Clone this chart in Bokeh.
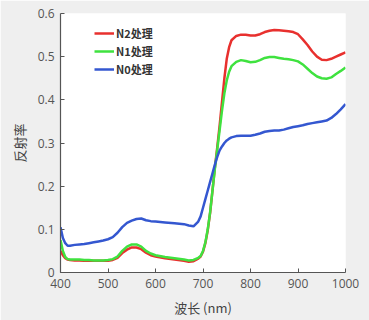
from bokeh.plotting import figure
from bokeh.models import Legend, LegendItem, CustomJSTickFormatter, FixedTicker, Range1d
from bokeh.embed import file_html
from bokeh.resources import INLINE

wavelength = [400,405,410,415,420,430,440,450,460,470,480,490,500,510,520,530,540,550,560,570,580,590,600,620,640,660,670,680,690,695,700,705,710,715,720,725,730,735,740,745,750,755,760,770,780,790,800,810,820,830,840,850,860,870,880,890,900,910,920,930,940,950,960,970,980,990,1000]

n0 = [0.105,0.08,0.068,0.062,0.062,0.064,0.065,0.066,0.068,0.07,0.072,0.074,0.077,0.082,0.092,0.105,0.115,0.12,0.124,0.125,0.121,0.119,0.118,0.116,0.114,0.112,0.109,0.107,0.118,0.13,0.15,0.17,0.19,0.21,0.23,0.25,0.268,0.283,0.292,0.3,0.306,0.31,0.313,0.316,0.317,0.317,0.317,0.319,0.322,0.326,0.328,0.329,0.329,0.331,0.334,0.337,0.339,0.341,0.344,0.346,0.348,0.35,0.352,0.358,0.367,0.378,0.39]

n1 = [0.075,0.05,0.036,0.031,0.03,0.03,0.03,0.029,0.029,0.028,0.028,0.028,0.029,0.031,0.037,0.05,0.06,0.065,0.065,0.06,0.05,0.044,0.04,0.036,0.033,0.03,0.028,0.029,0.034,0.038,0.05,0.07,0.1,0.14,0.19,0.24,0.285,0.33,0.375,0.415,0.445,0.465,0.478,0.488,0.492,0.49,0.487,0.488,0.492,0.497,0.499,0.499,0.497,0.495,0.494,0.492,0.489,0.482,0.472,0.462,0.454,0.45,0.449,0.452,0.46,0.467,0.475]

n2 = [0.05,0.04,0.033,0.03,0.029,0.028,0.028,0.027,0.027,0.027,0.027,0.027,0.027,0.029,0.034,0.045,0.053,0.058,0.058,0.054,0.046,0.04,0.037,0.033,0.03,0.027,0.025,0.026,0.032,0.037,0.048,0.068,0.098,0.138,0.19,0.243,0.29,0.34,0.395,0.45,0.495,0.522,0.538,0.548,0.551,0.551,0.549,0.549,0.552,0.557,0.56,0.562,0.561,0.56,0.559,0.557,0.552,0.54,0.527,0.512,0.5,0.493,0.492,0.495,0.5,0.505,0.51]

series_labels = ["N2处理", "N1处理", "N0处理"]
x_ticks = [400, 500, 600, 700, 800, 900, 1000]
y_ticks = [0, 0.1, 0.2, 0.3, 0.4, 0.5, 0.6]

p = figure(frame_width=285, frame_height=259, output_backend="svg", toolbar_location=None,
           x_range=Range1d(400, 1000), y_range=Range1d(0, 0.6),
           min_border_left=60, min_border_right=24, min_border_top=13, min_border_bottom=48)
p.border_fill_color = "#efefef"
p.background_fill_color = "white"
p.outline_line_color = None
p.grid.visible = False

r2 = p.line(wavelength, n2, line_color="#e8302e", line_width=2.5)
r1 = p.line(wavelength, n1, line_color="#3fe23f", line_width=2.5)
r0 = p.line(wavelength, n0, line_color="#3457d0", line_width=2.5)

for ax in (p.xaxis[0], p.yaxis[0]):
    ax.axis_line_color = "#555555"
    ax.axis_line_width = 1.2
    ax.major_tick_line_color = "#555555"
    ax.major_tick_in = 4
    ax.major_tick_out = 0
    ax.minor_tick_line_color = None
    ax.major_label_text_font = "Open Sans"
    ax.major_label_text_font_size = "12px"
    ax.major_label_text_color = "#555555"
    ax.axis_label_text_font = "Noto Sans CJK SC"
    ax.axis_label_text_font_size = "13px"
    ax.axis_label_text_font_style = "normal"
    ax.axis_label_text_color = "#444444"

p.xaxis.ticker = FixedTicker(ticks=x_ticks)
p.yaxis.ticker = FixedTicker(ticks=y_ticks)
p.yaxis.formatter = CustomJSTickFormatter(code="return tick < 1e-9 ? '0' : tick.toFixed(1);")
p.xaxis.axis_label = "波长 (nm)"
p.yaxis.axis_label = "反射率"
p.xaxis.major_label_standoff = 6
p.yaxis.major_label_standoff = 6
p.xaxis.axis_label_standoff = 7
p.yaxis.axis_label_standoff = 6

legend = Legend(items=[LegendItem(label=series_labels[0], renderers=[r2]),
                       LegendItem(label=series_labels[1], renderers=[r1]),
                       LegendItem(label=series_labels[2], renderers=[r0])],
                location=(34, 195))
legend.background_fill_alpha = 0
legend.border_line_color = None
legend.label_text_font = "Noto Sans CJK SC"
legend.label_text_font_style = "bold"
legend.label_text_font_size = "11px"
legend.label_text_color = "#333333"
legend.glyph_width = 20
legend.label_standoff = 2
legend.spacing = 2
legend.padding = 4
legend.label_height = 16
legend.glyph_height = 16
p.add_layout(legend)

open("out.html", "w").write(file_html(p, INLINE))
